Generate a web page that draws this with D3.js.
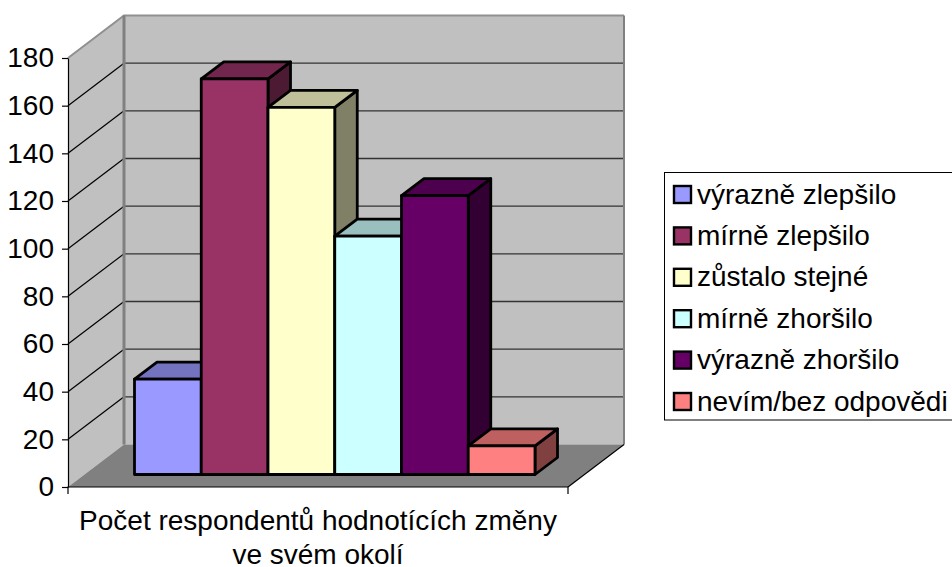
<!DOCTYPE html>
<html>
<head>
<meta charset="utf-8">
<script src="https://cdn.jsdelivr.net/npm/d3@7"></script>
<style>
html, body { margin: 0; padding: 0; background: #fff; }
svg { display: block; }
text { font-family: "Liberation Sans", Arial, sans-serif; fill: #000; }
</style>
</head>
<body>
<svg id="chart" width="952" height="567"></svg>
<script>
var categories = ['výrazně zlepšilo', 'mírně zlepšilo', 'zůstalo stejné', 'mírně zhoršilo', 'výrazně zhoršilo', 'nevím/bez odpovědi'];
var values = [40, 166, 154, 100, 117, 12];
var barColors = ['#9999ff', '#993366', '#ffffcc', '#ccffff', '#660066', '#ff8080'];
var yTicks = [0, 20, 40, 60, 80, 100, 120, 140, 160, 180];
var axisTitle = ['Počet respondentů hodnotících změny', 've svém okolí'];

var svg = d3.select('#chart');

// front plane of the 3d box
var left = 68, right = 568, bottom = 487, top_ = 58;
// offset of the back wall and of the bars
var depth = { x: 56, y: -42.5 };
var barFront = { x: 0, y: -12.5 };
var barDepth = { x: 22.5, y: -17 };

var y = d3.scaleLinear().domain([0, 180]).range([bottom, top_]);
var x = d3.scaleBand().domain(categories).range([134.5, 535]).padding(0);

function pts(list) {
    return list.map(function(p) { return p[0] + ',' + p[1]; }).join(' ');
}

// walls
svg.append('polygon')
    .attr('points', pts([[left, bottom], [left, top_], [left + depth.x, top_ + depth.y], [left + depth.x, bottom + depth.y]]))
    .attr('fill', '#c0c0c0');
svg.append('rect')
    .attr('x', left + depth.x)
    .attr('y', top_ + depth.y)
    .attr('width', right - left)
    .attr('height', bottom - top_)
    .attr('fill', '#c0c0c0');
svg.append('polygon')
    .attr('points', pts([[left, bottom], [right, bottom], [right + depth.x, bottom + depth.y], [left + depth.x, bottom + depth.y]]))
    .attr('fill', '#808080');

// gridlines on back and side wall
var grid = svg.append('g');
yTicks.slice(1, -1).forEach(function(t) {
    grid.append('line')
        .attr('x1', left).attr('y1', y(t))
        .attr('x2', left + depth.x).attr('y2', y(t) + depth.y)
        .attr('stroke', '#000').attr('stroke-width', 1.2);
    grid.append('line')
        .attr('x1', left + depth.x).attr('y1', y(t) + depth.y)
        .attr('x2', right + depth.x).attr('y2', y(t) + depth.y)
        .attr('stroke', '#333').attr('stroke-width', 1.4);
});

// wall edges
svg.append('path')
    .attr('d', 'M' + left + ',' + top_ + 'L' + (left + depth.x) + ',' + (top_ + depth.y) + 'L' + (right + depth.x) + ',' + (top_ + depth.y))
    .attr('fill', 'none').attr('stroke', '#909090').attr('stroke-width', 2);
svg.append('line')
    .attr('x1', left + depth.x).attr('y1', top_ + depth.y)
    .attr('x2', left + depth.x).attr('y2', bottom + depth.y)
    .attr('stroke', '#808080').attr('stroke-width', 3);
svg.append('line')
    .attr('x1', right + depth.x).attr('y1', top_ + depth.y)
    .attr('x2', right + depth.x).attr('y2', bottom + depth.y)
    .attr('stroke', '#808080').attr('stroke-width', 2);
svg.append('line')
    .attr('x1', right).attr('y1', bottom)
    .attr('x2', right + depth.x).attr('y2', bottom + depth.y)
    .attr('stroke', '#000').attr('stroke-width', 1.2);

// y axis
var yAxis = svg.append('g')
    .attr('transform', 'translate(' + left + ',0)')
    .call(d3.axisLeft(y).tickValues(yTicks).tickSize(6).tickSizeOuter(0).tickPadding(8));
yAxis.selectAll('text').style('font-size', '28px');
yAxis.selectAll('path, line').attr('stroke', '#000').attr('stroke-width', 1.2);

// base line with the two end ticks
svg.append('path')
    .attr('d', 'M' + left + ',' + (bottom + 7) + 'V' + bottom + 'H' + right + 'V' + (bottom + 7))
    .attr('fill', 'none').attr('stroke', '#000').attr('stroke-width', 1.2);

// bars, left to right so the later ones cover the earlier ones
function shade(c, k) {
    var r = d3.rgb(c);
    return d3.rgb(r.r * k, r.g * k, r.b * k).formatHex();
}

var bars = svg.append('g').selectAll('g')
    .data(categories)
    .enter().append('g')
    .attr('stroke', '#000')
    .attr('stroke-width', 2.8)
    .attr('stroke-linejoin', 'round');

bars.append('polygon')
    .attr('fill', function(d, i) { return shade(barColors[i], 0.5); })
    .attr('points', function(d, i) {
        var x1 = x(d) + x.bandwidth(), y0 = y(0) + barFront.y, y1 = y(values[i]) + barFront.y;
        return pts([[x1, y1], [x1 + barDepth.x, y1 + barDepth.y], [x1 + barDepth.x, y0 + barDepth.y], [x1, y0]]);
    });
bars.append('polygon')
    .attr('fill', function(d, i) { return shade(barColors[i], 0.75); })
    .attr('points', function(d, i) {
        var x0 = x(d), x1 = x0 + x.bandwidth(), y1 = y(values[i]) + barFront.y;
        return pts([[x0, y1], [x0 + barDepth.x, y1 + barDepth.y], [x1 + barDepth.x, y1 + barDepth.y], [x1, y1]]);
    });
bars.append('rect')
    .attr('x', function(d) { return x(d); })
    .attr('y', function(d, i) { return y(values[i]) + barFront.y; })
    .attr('width', x.bandwidth())
    .attr('height', function(d, i) { return y(0) - y(values[i]); })
    .attr('fill', function(d, i) { return barColors[i]; });

// category title
svg.append('g').selectAll('text')
    .data(axisTitle)
    .enter().append('text')
    .attr('x', 318)
    .attr('y', function(d, i) { return 530 + i * 33.5; })
    .attr('text-anchor', 'middle')
    .style('font-size', '28px')
    .text(function(d) { return d; });

// legend, its right edge runs off the picture
var legendRow = d3.scalePoint().domain(categories).range([194.5, 401.5]);
svg.append('rect')
    .attr('x', 664.5).attr('y', 172.5)
    .attr('width', 300).attr('height', 247.5)
    .attr('fill', '#fff').attr('stroke', '#000').attr('stroke-width', 1);

var legend = svg.append('g').selectAll('g')
    .data(categories)
    .enter().append('g')
    .attr('transform', function(d) { return 'translate(0,' + legendRow(d) + ')'; });
legend.append('rect')
    .attr('x', 674).attr('y', -8.5)
    .attr('width', 17).attr('height', 17)
    .attr('fill', function(d, i) { return barColors[i]; })
    .attr('stroke', '#000').attr('stroke-width', 2.4);
legend.append('text')
    .attr('x', 697).attr('y', 9)
    .style('font-size', '28px')
    .text(function(d) { return d; });
</script>
</body>
</html>
